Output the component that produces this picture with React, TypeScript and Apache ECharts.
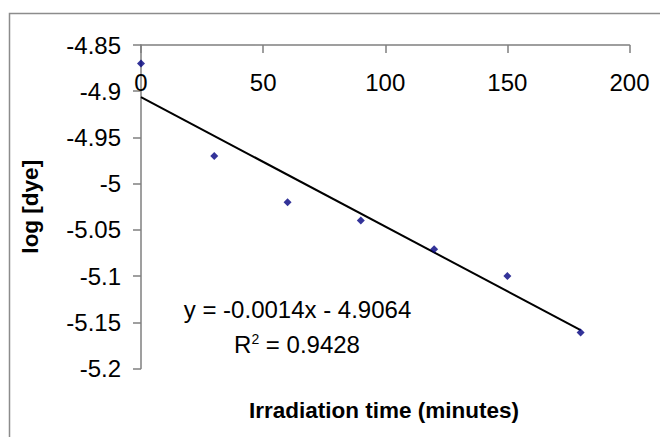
import React, { useEffect, useRef } from "react";
import * as echarts from "echarts";

const timeMinutes = [0, 30, 60, 90, 120, 150, 180];
const logDye = [-4.87, -4.97, -5.02, -5.04, -5.071, -5.1, -5.161];
const trendSlope = -0.0014;
const trendIntercept = -4.9064;
const rSquared = 0.9428;
const xTitle = "Irradiation time (minutes)";
const yTitle = "log [dye]";

const FONT = "'Liberation Sans', Arial, sans-serif";

export default function App() {
  const ref = useRef<HTMLDivElement>(null);
  useEffect(() => {
    document.body.style.margin = "0";
    if (!ref.current) return;
    const chart = echarts.init(ref.current, undefined, { renderer: "svg" });
    const xEnd = timeMinutes[timeMinutes.length - 1];
    const trend = [
      [timeMinutes[0], trendIntercept + trendSlope * timeMinutes[0]],
      [xEnd, trendIntercept + trendSlope * xEnd],
    ];
    chart.setOption({
      animation: false,
      backgroundColor: "#ffffff",
      textStyle: { fontFamily: FONT },
      grid: { left: 141, top: 45, right: 30.5, bottom: 68.5, containLabel: false },
      xAxis: {
        type: "value",
        position: "top",
        min: 0,
        max: 200,
        interval: 50,
        axisLine: { show: true, onZero: false, lineStyle: { color: "#7f7f7f", width: 1.5 } },
        axisTick: { show: true, inside: true, length: 8, lineStyle: { color: "#7f7f7f", width: 1.5 } },
        axisLabel: { inside: true, margin: 25, color: "#000", fontSize: 24, fontFamily: FONT },
        splitLine: { show: false },
      },
      yAxis: {
        type: "value",
        min: -5.2,
        max: -4.85,
        interval: 0.05,
        name: yTitle,
        nameLocation: "middle",
        nameRotate: 90,
        nameGap: 99,
        nameTextStyle: { fontSize: 22.5, fontWeight: "bold", color: "#000", fontFamily: FONT },
        axisLine: { show: true, onZero: false, lineStyle: { color: "#7f7f7f", width: 1.5 } },
        axisTick: { show: true, inside: false, length: 8, lineStyle: { color: "#7f7f7f", width: 1.5 } },
        axisLabel: {
          margin: 20,
          color: "#000",
          fontSize: 24,
          fontFamily: FONT,
          formatter: (v: number) => String(Number(v.toFixed(2))),
        },
        splitLine: { show: false },
      },
      series: [
        {
          type: "line",
          data: trend,
          showSymbol: false,
          symbol: "none",
          lineStyle: { color: "#000", width: 2 },
          z: 2,
        },
        {
          type: "scatter",
          data: timeMinutes.map((t, i) => [t, logDye[i]]),
          symbol: "diamond",
          symbolSize: 8,
          itemStyle: { color: "#000080" },
          z: 3,
        },
      ],
      graphic: [
        {
          type: "rect",
          shape: { x: 9.5, y: 13.5, width: 700, height: 500 },
          style: { fill: "none", stroke: "#8c8c8c", lineWidth: 1.5 },
          silent: true,
          z: 0,
        },
        {
          type: "text",
          x: 297.5,
          y: 309,
          style: {
            text: `y = ${trendSlope}x - ${Math.abs(trendIntercept)}`,
            font: `24px ${FONT}`,
            fill: "#000",
            align: "center",
            verticalAlign: "middle",
          },
        },
        {
          type: "text",
          x: 297,
          y: 344,
          style: {
            text: `R{sup|2} = ${rSquared}`,
            font: `24px ${FONT}`,
            fill: "#000",
            align: "center",
            verticalAlign: "middle",
            rich: {
              sup: { fontSize: 14, fontFamily: FONT, verticalAlign: "top", padding: [0, 0, 10, 0], fill: "#000" },
            },
          },
        },
        {
          type: "text",
          x: 384,
          y: 410,
          style: {
            text: xTitle,
            font: `bold 22.5px ${FONT}`,
            fill: "#000",
            align: "center",
            verticalAlign: "middle",
          },
        },
      ],
    });
    return () => chart.dispose();
  }, []);
  return <div ref={ref} style={{ width: 660, height: 437 }} />;
}
